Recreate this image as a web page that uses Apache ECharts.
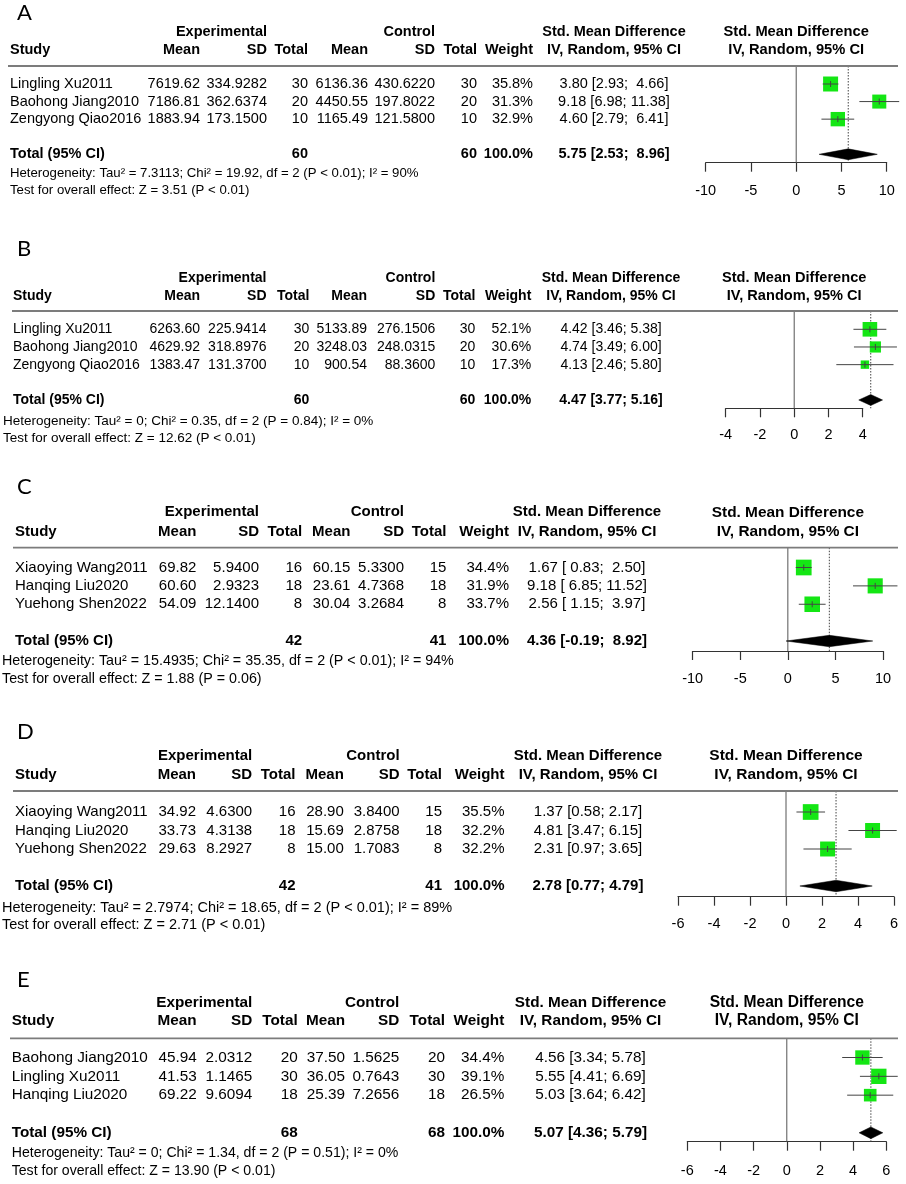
<!DOCTYPE html>
<html><head><meta charset="utf-8">
<script src="https://cdn.jsdelivr.net/npm/echarts@6/dist/echarts.min.js"></script>
<style>html,body{margin:0;padding:0;background:#fff}#c{width:906px;height:1184px}</style>
</head><body><div id="c"></div>
<script>
// ---------------- DATA ----------------
// Panel A
var A_studies = ['Lingling Xu2011', 'Baohong Jiang2010', 'Zengyong Qiao2016'];
var A_expMean = [7619.62, 7186.81, 1883.94];
var A_expSD = [334.9282, 362.6374, 173.1500];
var A_expN = [30, 20, 10];
var A_ctlMean = [6136.36, 4450.55, 1165.49];
var A_ctlSD = [430.6220, 197.8022, 121.5800];
var A_ctlN = [30, 20, 10];
var A_weight = [35.8, 31.3, 32.9];
var A_smd = [3.80, 9.18, 4.60];
var A_lo = [2.93, 6.98, 2.79];
var A_hi = [4.66, 11.38, 6.41];
var A_total = [5.75, 2.53, 8.96];
var A_totalN = [60, 60];
var A_ticks = [-10, -5, 0, 5, 10];
var A_stats = ['Heterogeneity: Tau\u00b2 = 7.3113; Chi\u00b2 = 19.92, df = 2 (P < 0.01); I\u00b2 = 90%', 'Test for overall effect: Z = 3.51 (P < 0.01)'];

// Panel B
var B_studies = ['Lingling Xu2011', 'Baohong Jiang2010', 'Zengyong Qiao2016'];
var B_expMean = [6263.60, 4629.92, 1383.47];
var B_expSD = [225.9414, 318.8976, 131.3700];
var B_expN = [30, 20, 10];
var B_ctlMean = [5133.89, 3248.03, 900.54];
var B_ctlSD = [276.1506, 248.0315, 88.3600];
var B_ctlN = [30, 20, 10];
var B_weight = [52.1, 30.6, 17.3];
var B_smd = [4.42, 4.74, 4.13];
var B_lo = [3.46, 3.49, 2.46];
var B_hi = [5.38, 6.00, 5.80];
var B_total = [4.47, 3.77, 5.16];
var B_totalN = [60, 60];
var B_ticks = [-4, -2, 0, 2, 4];
var B_stats = ['Heterogeneity: Tau\u00b2 = 0; Chi\u00b2 = 0.35, df = 2 (P = 0.84); I\u00b2 = 0%', 'Test for overall effect: Z = 12.62 (P < 0.01)'];

// Panel C
var C_studies = ['Xiaoying Wang2011', 'Hanqing Liu2020', 'Yuehong Shen2022'];
var C_expMean = [69.82, 60.60, 54.09];
var C_expSD = [5.9400, 2.9323, 12.1400];
var C_expN = [16, 18, 8];
var C_ctlMean = [60.15, 23.61, 30.04];
var C_ctlSD = [5.3300, 4.7368, 3.2684];
var C_ctlN = [15, 18, 8];
var C_weight = [34.4, 31.9, 33.7];
var C_smd = [1.67, 9.18, 2.56];
var C_lo = [0.83, 6.85, 1.15];
var C_hi = [2.50, 11.52, 3.97];
var C_total = [4.36, -0.19, 8.92];
var C_totalN = [42, 41];
var C_ticks = [-10, -5, 0, 5, 10];
var C_stats = ['Heterogeneity: Tau\u00b2 = 15.4935; Chi\u00b2 = 35.35, df = 2 (P < 0.01); I\u00b2 = 94%', 'Test for overall effect: Z = 1.88 (P = 0.06)'];

// Panel D
var D_studies = ['Xiaoying Wang2011', 'Hanqing Liu2020', 'Yuehong Shen2022'];
var D_expMean = [34.92, 33.73, 29.63];
var D_expSD = [4.6300, 4.3138, 8.2927];
var D_expN = [16, 18, 8];
var D_ctlMean = [28.90, 15.69, 15.00];
var D_ctlSD = [3.8400, 2.8758, 1.7083];
var D_ctlN = [15, 18, 8];
var D_weight = [35.5, 32.2, 32.2];
var D_smd = [1.37, 4.81, 2.31];
var D_lo = [0.58, 3.47, 0.97];
var D_hi = [2.17, 6.15, 3.65];
var D_total = [2.78, 0.77, 4.79];
var D_totalN = [42, 41];
var D_ticks = [-6, -4, -2, 0, 2, 4, 6];
var D_stats = ['Heterogeneity: Tau\u00b2 = 2.7974; Chi\u00b2 = 18.65, df = 2 (P < 0.01); I\u00b2 = 89%', 'Test for overall effect: Z = 2.71 (P < 0.01)'];

// Panel E
var E_studies = ['Baohong Jiang2010', 'Lingling Xu2011', 'Hanqing Liu2020'];
var E_expMean = [45.94, 41.53, 69.22];
var E_expSD = [2.0312, 1.1465, 9.6094];
var E_expN = [20, 30, 18];
var E_ctlMean = [37.50, 36.05, 25.39];
var E_ctlSD = [1.5625, 0.7643, 7.2656];
var E_ctlN = [20, 30, 18];
var E_weight = [34.4, 39.1, 26.5];
var E_smd = [4.56, 5.55, 5.03];
var E_lo = [3.34, 4.41, 3.64];
var E_hi = [5.78, 6.69, 6.42];
var E_total = [5.07, 4.36, 5.79];
var E_totalN = [68, 68];
var E_ticks = [-6, -4, -2, 0, 2, 4, 6];
var E_stats = ['Heterogeneity: Tau\u00b2 = 0; Chi\u00b2 = 1.34, df = 2 (P = 0.51); I\u00b2 = 0%', 'Test for overall effect: Z = 13.90 (P < 0.01)'];

var PANELS = [
  {label:'A', studies:A_studies, expMean:A_expMean, expSD:A_expSD, expN:A_expN, ctlMean:A_ctlMean, ctlSD:A_ctlSD, ctlN:A_ctlN, weight:A_weight, smd:A_smd, lo:A_lo, hi:A_hi, total:A_total, totalN:A_totalN, ticks:A_ticks, stats:A_stats},
  {label:'B', studies:B_studies, expMean:B_expMean, expSD:B_expSD, expN:B_expN, ctlMean:B_ctlMean, ctlSD:B_ctlSD, ctlN:B_ctlN, weight:B_weight, smd:B_smd, lo:B_lo, hi:B_hi, total:B_total, totalN:B_totalN, ticks:B_ticks, stats:B_stats},
  {label:'C', studies:C_studies, expMean:C_expMean, expSD:C_expSD, expN:C_expN, ctlMean:C_ctlMean, ctlSD:C_ctlSD, ctlN:C_ctlN, weight:C_weight, smd:C_smd, lo:C_lo, hi:C_hi, total:C_total, totalN:C_totalN, ticks:C_ticks, stats:C_stats},
  {label:'D', studies:D_studies, expMean:D_expMean, expSD:D_expSD, expN:D_expN, ctlMean:D_ctlMean, ctlSD:D_ctlSD, ctlN:D_ctlN, weight:D_weight, smd:D_smd, lo:D_lo, hi:D_hi, total:D_total, totalN:D_totalN, ticks:D_ticks, stats:D_stats},
  {label:'E', studies:E_studies, expMean:E_expMean, expSD:E_expSD, expN:E_expN, ctlMean:E_ctlMean, ctlSD:E_ctlSD, ctlN:E_ctlN, weight:E_weight, smd:E_smd, lo:E_lo, hi:E_hi, total:E_total, totalN:E_totalN, ticks:E_ticks, stats:E_stats}
];

// ---------------- LAYOUT (pixels) ----------------
var LAYOUT = [
  {labelY:12.5, h1:32.3, h2:50, line:66, row1:84, step:17.575, axisY:162.7, x0:705.7, x1:886.7, het:173.3, test:190.7, studyX:10, statX:10, lineX0:8,
   cols:[200,267,308,368,435,477,533], smdC:614, fs:14.5, sfs:13.2, pfs:14.7, margin:21, box:15},
  {labelY:249, h1:278.3, h2:295.7, line:311, row1:329.3, step:17.675, axisY:408.3, x0:725.7, x1:862.7, het:421, test:438.3, studyX:13, statX:3, lineX0:12,
   cols:[200,266.5,309.4,367,435.3,475.4,531.3], smdC:611, fs:14, sfs:13.5, pfs:14.6, margin:19.5, box:14.6},
  {labelY:487, h1:512.3, h2:531.7, line:547.7, row1:567.5, step:18.375, axisY:651, x0:692.7, x1:883, het:661, test:678.7, studyX:15, statX:2, lineX0:13,
   cols:[196.4,259,302.2,350.4,404,446.4,509], smdC:587, fs:15, sfs:14.3, pfs:15.4, margin:20, box:15.7},
  {labelY:731.5, h1:755.7, h2:775, line:791, row1:812, step:18.5, axisY:896.7, x0:678, x1:894, het:908.3, test:925, studyX:15, statX:2, lineX0:13,
   cols:[196,252.2,295.5,343.8,399.6,442,504.5], smdC:588, fs:15, sfs:14.5, pfs:15.5, margin:20, box:15.7},
  {labelY:980, h1:1002.3, h2:1021, line:1038.3, row1:1057.5, step:18.83, axisY:1141.7, x0:687.3, x1:886.3, het:1152.7, test:1170.7, studyX:11.7, statX:11.7, lineX0:10,
   cols:[196.7,252.3,297.7,345,399.3,445,504.3], smdC:590.5, fs:15.3, sfs:14.1, pfs:15.6, margin:21.5, box:15.3}
];

var FONT = "'Liberation Sans', Arial, Helvetica, sans-serif";
var GREEN = '#14e614';
var INK = '#333333';

function f2(v) { return v.toFixed(2); }
function f4(v) { return v.toFixed(4); }
function ciStrings(est, lo, hi) {
  var los = lo.map(f2), his = hi.map(f2);
  var wl = Math.max.apply(null, los.map(function (s) { return s.length; }));
  var wh = Math.max.apply(null, his.map(function (s) { return s.length; }));
  return est.map(function (e, i) { return f2(e) + ' [' + los[i].padStart(wl) + '; ' + his[i].padStart(wh) + ']'; });
}
function txt(x, y, s, size, align, bold, family) {
  var font = (bold ? 'bold ' : '') + size + 'px ' + (family || FONT);
  return {type:'text', silent:true, z:10,
    style:{text:s, x:x, y:y, font:font, fill:'#000', textAlign:align, textVerticalAlign:'middle', align:align, verticalAlign:'middle'}};
}

var grids = [], xAxes = [], yAxes = [], series = [], graphics = [];

PANELS.forEach(function (P, i) {
  var L = LAYOUT[i];
  var ymin = 1 - (L.row1 - L.line) / L.step;
  var ymax = 1 + (L.axisY - L.row1) / L.step;
  var totalRow = 5;
  var rowPx = function (r) { return L.row1 + (r - 1) * L.step; };
  var plotC = (L.x0 + L.x1) / 2;
  var c = L.cols, fs = L.fs;

  grids.push({left:L.x0, width:L.x1 - L.x0, top:L.line, height:L.axisY - L.line, containLabel:false, outerBoundsMode:'none'});
  xAxes.push({type:'value', gridIndex:i, min:P.ticks[0], max:P.ticks[P.ticks.length - 1], interval:P.ticks[1] - P.ticks[0],
    axisLine:{show:true, onZero:false, lineStyle:{color:INK, width:1.2}},
    axisTick:{show:true, length:9, inside:false, lineStyle:{color:INK, width:1.2}},
    axisLabel:{show:true, margin:L.margin, color:'#000', fontSize:14.5, fontFamily:FONT, showMinLabel:true, showMaxLabel:true},
    splitLine:{show:false}});
  yAxes.push({type:'value', gridIndex:i, min:ymin, max:ymax, inverse:true, show:false, splitLine:{show:false}});

  // reference lines: no effect (solid) and overall estimate (dotted)
  series.push({type:'custom', xAxisIndex:i, yAxisIndex:i, clip:false, silent:true, z:1,
    data:[[0, 0], [P.total[0], 1]],
    renderItem:function (params, api) {
      var x = api.value(0), dotted = api.value(1) === 1;
      var p1 = api.coord([x, ymin]), p2 = api.coord([x, ymax]);
      return {type:'line', shape:{x1:p1[0], y1:p1[1], x2:p2[0], y2:p2[1]},
        style:{stroke: dotted ? '#444' : '#555', lineWidth:1, lineDash: dotted ? [1.5, 1.5] : null}};
    }});

  // study squares + CI
  var maxW = Math.max.apply(null, P.weight);
  series.push({type:'custom', xAxisIndex:i, yAxisIndex:i, clip:false, silent:true, z:3,
    data:P.studies.map(function (s, k) { return [P.smd[k], P.lo[k], P.hi[k], k + 1, P.weight[k]]; }),
    renderItem:function (params, api) {
      var e = api.value(0), lo = api.value(1), hi = api.value(2), r = api.value(3), w = api.value(4);
      var pc = api.coord([e, r]), pl = api.coord([lo, r]), ph = api.coord([hi, r]);
      var s = L.box * Math.sqrt(w / maxW);
      return {type:'group', children:[
        {type:'rect', shape:{x:pc[0] - s / 2, y:pc[1] - s / 2, width:s, height:s}, style:{fill:GREEN}},
        {type:'line', shape:{x1:pl[0], y1:pc[1], x2:ph[0], y2:pc[1]}, style:{stroke:'#444', lineWidth:1}},
        {type:'line', shape:{x1:pc[0], y1:pc[1] - 3, x2:pc[0], y2:pc[1] + 3}, style:{stroke:'#444', lineWidth:1}}
      ]};
    }});

  // pooled diamond
  series.push({type:'custom', xAxisIndex:i, yAxisIndex:i, clip:false, silent:true, z:4,
    data:[[P.total[0], P.total[1], P.total[2], totalRow]],
    renderItem:function (params, api) {
      var e = api.value(0), lo = api.value(1), hi = api.value(2), r = api.value(3);
      var t = api.coord([e, r - 0.31]), b = api.coord([e, r + 0.31]);
      var l = api.coord([lo, r]), rr = api.coord([hi, r]);
      return {type:'polygon', shape:{points:[[l[0], l[1]], [t[0], t[1]], [rr[0], rr[1]], [b[0], b[1]]]},
        style:{fill:'#000', stroke:'#000', lineWidth:0.5}};
    }});

  // ---- table text ----
  graphics.push(txt(17, L.labelY, P.label, 22, 'left', false, "Lato, 'Open Sans', sans-serif"));
  graphics.push({type:'line', silent:true, z:9, shape:{x1:L.lineX0, y1:L.line, x2:898, y2:L.line}, style:{stroke:'#7c7c7c', lineWidth:1.8}});

  graphics.push(txt(c[1], L.h1, 'Experimental', fs, 'right', true));
  graphics.push(txt(c[4], L.h1, 'Control', fs, 'right', true));
  graphics.push(txt(L.smdC, L.h1, 'Std. Mean Difference', fs, 'center', true));
  graphics.push(txt(plotC, L.h1, 'Std. Mean Difference', L.pfs, 'center', true));

  graphics.push(txt(L.studyX, L.h2, 'Study', fs, 'left', true));
  var heads2 = ['Mean', 'SD', 'Total', 'Mean', 'SD', 'Total', 'Weight'];
  heads2.forEach(function (h, k) { graphics.push(txt(c[k], L.h2, h, fs, 'right', true)); });
  graphics.push(txt(L.smdC, L.h2, 'IV, Random, 95% CI', fs, 'center', true));
  graphics.push(txt(plotC, L.h2, 'IV, Random, 95% CI', L.pfs, 'center', true));

  var cis = ciStrings(P.smd.concat([P.total[0]]), P.lo.concat([P.total[1]]), P.hi.concat([P.total[2]]));
  P.studies.forEach(function (s, k) {
    var y = rowPx(k + 1);
    graphics.push(txt(L.studyX, y, s, fs, 'left', false));
    graphics.push(txt(c[0], y, f2(P.expMean[k]), fs, 'right', false));
    graphics.push(txt(c[1], y, f4(P.expSD[k]), fs, 'right', false));
    graphics.push(txt(c[2], y, String(P.expN[k]), fs, 'right', false));
    graphics.push(txt(c[3], y, f2(P.ctlMean[k]), fs, 'right', false));
    graphics.push(txt(c[4], y, f4(P.ctlSD[k]), fs, 'right', false));
    graphics.push(txt(c[5], y, String(P.ctlN[k]), fs, 'right', false));
    graphics.push(txt(c[6], y, P.weight[k].toFixed(1) + '%', fs, 'right', false));
    graphics.push(txt(L.smdC, y, cis[k], fs, 'center', false));
  });
  var ty = rowPx(totalRow);
  graphics.push(txt(L.studyX, ty, 'Total (95% CI)', fs, 'left', true));
  graphics.push(txt(c[2], ty, String(P.totalN[0]), fs, 'right', true));
  graphics.push(txt(c[5], ty, String(P.totalN[1]), fs, 'right', true));
  graphics.push(txt(c[6], ty, '100.0%', fs, 'right', true));
  graphics.push(txt(L.smdC, ty, cis[cis.length - 1], fs, 'center', true));

  graphics.push(txt(L.statX, L.het, P.stats[0], L.sfs, 'left', false));
  graphics.push(txt(L.statX, L.test, P.stats[1], L.sfs, 'left', false));
});

var chart = echarts.init(document.getElementById('c'), null, {renderer:'canvas'});
chart.setOption({
  animation:false,
  backgroundColor:'#ffffff',
  grid:grids, xAxis:xAxes, yAxis:yAxes, series:series,
  graphic:{elements:graphics}
});
</script></body></html>
